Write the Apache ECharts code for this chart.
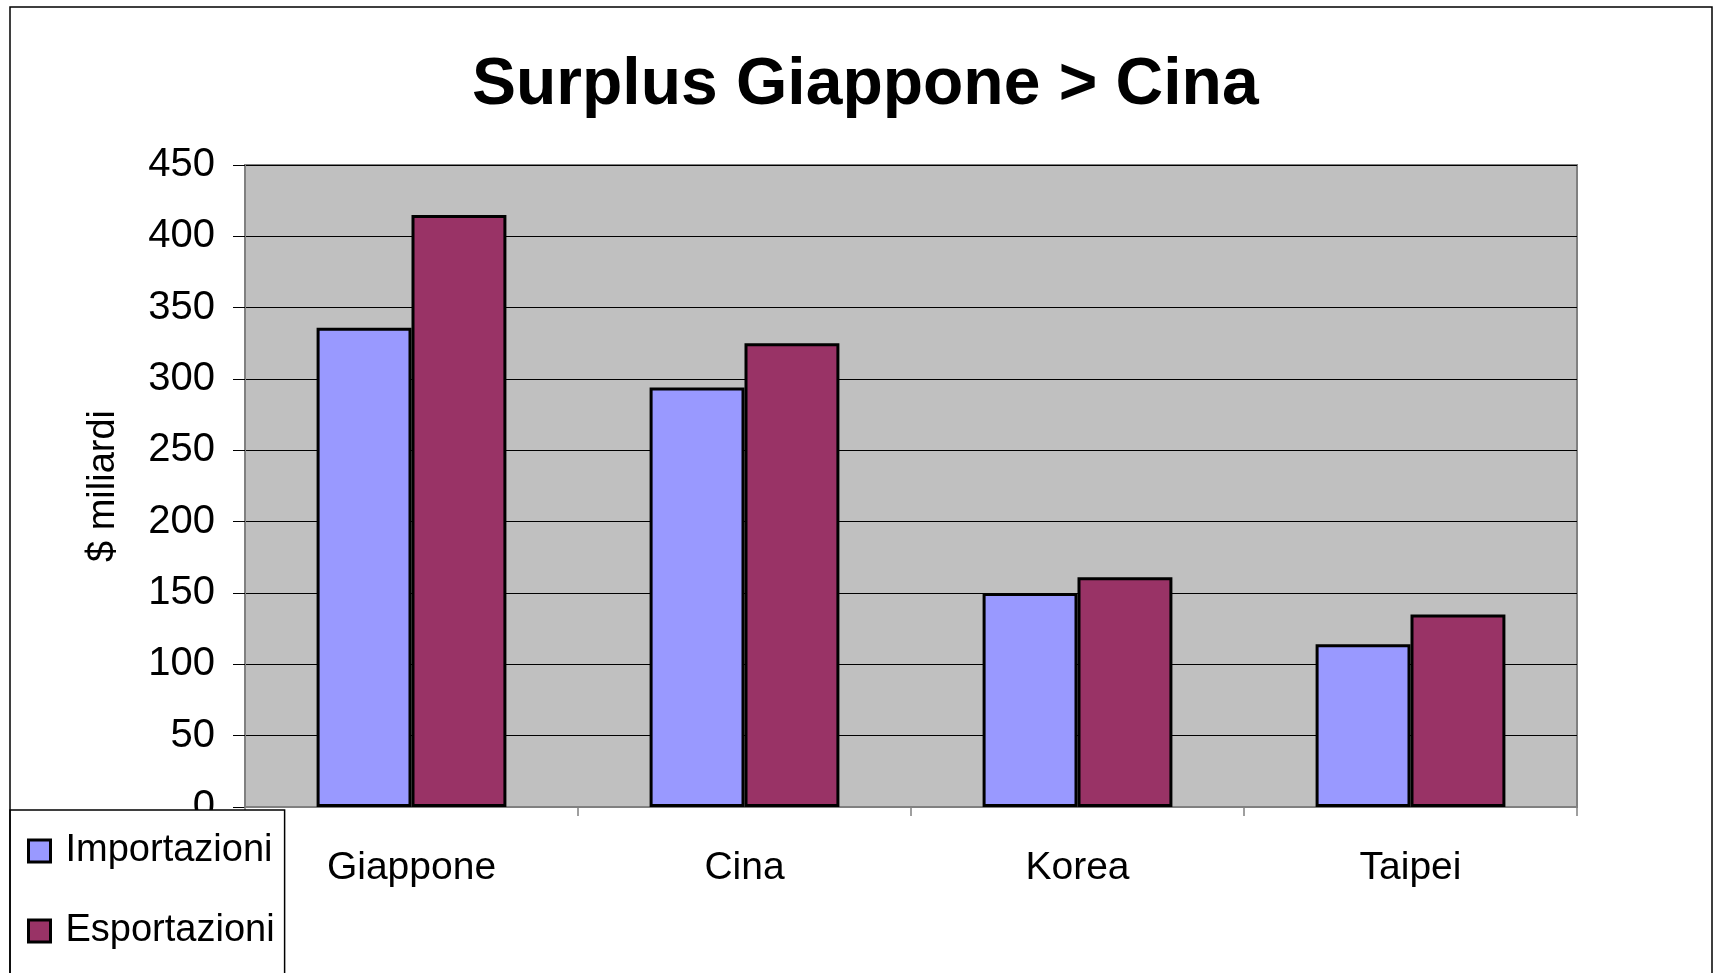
<!DOCTYPE html>
<html>
<head>
<meta charset="utf-8">
<script src="https://cdn.jsdelivr.net/npm/echarts@6/dist/echarts.min.js"></script>
<style>
html,body{margin:0;padding:0;background:#fff;}
#chart{width:1717px;height:973px;}
</style>
</head>
<body>
<div id="chart"></div>
<script>
const titleText = 'Surplus Giappone > Cina';
const categories = ['Giappone', 'Cina', 'Korea', 'Taipei'];
const importazioni = [336, 294, 150, 114];
const esportazioni = [415, 325, 161, 135];
const seriesNames = ['Importazioni', 'Esportazioni'];
const yAxisName = '$ miliardi';

const FONT = '"Liberation Sans", Arial, sans-serif';
const chart = echarts.init(document.getElementById('chart'), null, {renderer: 'canvas'});
chart.setOption({
  animation: false,
  backgroundColor: '#ffffff',
  textStyle: {fontFamily: FONT},
  title: {
    text: titleText,
    left: 467,
    top: 48,
    textStyle: {fontFamily: FONT, fontSize: 66, fontWeight: 'bold', color: '#000'}
  },
  graphic: [{
    type: 'rect',
    z: 100,
    silent: true,
    shape: {x: 10, y: 7, width: 1702, height: 1000},
    style: {fill: 'none', stroke: '#000', lineWidth: 1.5}
  }],
  grid: {
    left: 245, right: 140, top: 165, bottom: 166,
    show: true,
    backgroundColor: '#C0C0C0',
    borderColor: '#808080',
    borderWidth: 2
  },
  legend: {
    orient: 'vertical',
    left: 10,
    top: 810,
    height: 160,
    data: seriesNames,
    backgroundColor: '#ffffff',
    borderColor: '#000',
    borderWidth: 1.5,
    padding: [22, 10, 40, 17],
    itemGap: 42,
    itemWidth: 22,
    itemHeight: 22,
    icon: 'rect',
    itemStyle: {borderColor: '#000', borderWidth: 3},
    textStyle: {fontFamily: FONT, fontSize: 38, color: '#000', padding: [0, 0, 0, 10]}
  },
  xAxis: {
    type: 'category',
    data: categories,
    axisLine: {lineStyle: {color: '#808080', width: 2}},
    axisTick: {show: true, length: 9, lineStyle: {color: '#808080', width: 1.5}},
    axisLabel: {fontFamily: FONT, fontSize: 39, color: '#000', margin: 42},
    splitLine: {show: false}
  },
  yAxis: {
    type: 'value',
    min: 0, max: 450, interval: 50,
    name: yAxisName,
    nameLocation: 'middle',
    nameGap: 122,
    nameTextStyle: {fontFamily: FONT, fontSize: 38, color: '#000'},
    axisLine: {show: true, lineStyle: {color: '#808080', width: 2}},
    axisTick: {show: true, length: 12, lineStyle: {color: '#000', width: 1}},
    axisLabel: {fontFamily: FONT, fontSize: 40, color: '#000', margin: 30},
    splitLine: {show: true, lineStyle: {color: '#000', width: 1}}
  },
  series: [
    {
      name: seriesNames[0],
      type: 'bar',
      data: importazioni,
      barGap: '0%',
      barCategoryGap: '43%',
      itemStyle: {color: '#9999FF', borderColor: '#000', borderWidth: 3}
    },
    {
      name: seriesNames[1],
      type: 'bar',
      data: esportazioni,
      barGap: '0%',
      barCategoryGap: '43%',
      itemStyle: {color: '#993366', borderColor: '#000', borderWidth: 3}
    }
  ]
});
</script>
</body>
</html>
